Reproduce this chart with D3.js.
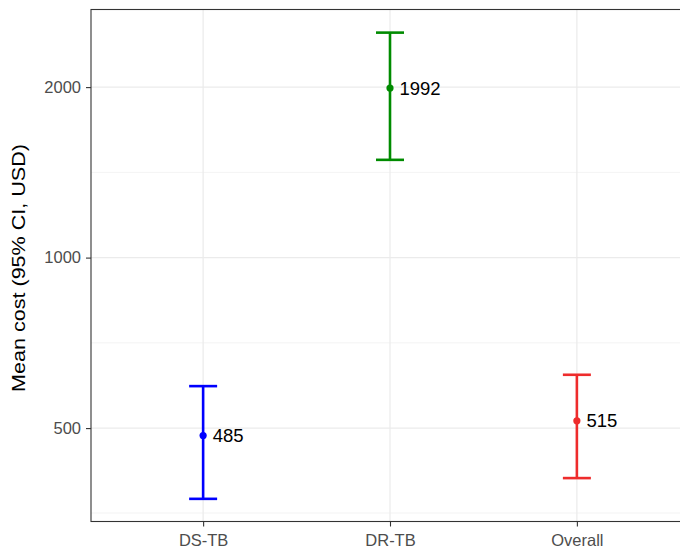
<!DOCTYPE html>
<html>
<head>
<meta charset="utf-8">
<script src="https://cdn.jsdelivr.net/npm/d3@7"></script>
<style>
  body { margin: 0; background: #fff; }
  svg { font-family: "Liberation Sans", Arial, sans-serif; display: block; }
</style>
</head>
<body>
<div id="chart"></div>
<script>
// Data
const groups = ['DS-TB', 'DR-TB', 'Overall'];
const means  = [485, 1992, 515];
const lower  = [375, 1488, 408];
const upper  = [593, 2496, 621];
const colors = ['#0000FF', '#008B00', '#EE2C2C'];
const yTicks = [500, 1000, 2000];
const yMinor = [354, 707, 1414];

const width = 680, height = 550;
const panel = { left: 91, top: 9.5, right: 689, bottom: 521.5 };

const svg = d3.select('#chart').append('svg')
  .attr('width', width).attr('height', height);

const x = d3.scalePoint().domain(groups)
  .range([panel.left, panel.right]).padding(0.6);
const y = d3.scaleLog().base(2).domain([342, 2742])
  .range([panel.bottom, panel.top]);

// Grid
const grid = svg.append('g');
grid.selectAll('.minor').data(yMinor).join('line')
  .attr('x1', panel.left).attr('x2', panel.right)
  .attr('y1', d => y(d)).attr('y2', d => y(d))
  .attr('stroke', '#EBEBEB').attr('stroke-width', 0.6);
grid.selectAll('.major').data(yTicks).join('line')
  .attr('x1', panel.left).attr('x2', panel.right)
  .attr('y1', d => y(d)).attr('y2', d => y(d))
  .attr('stroke', '#EBEBEB').attr('stroke-width', 1.2);
grid.selectAll('.vx').data(groups).join('line')
  .attr('x1', d => x(d)).attr('x2', d => x(d))
  .attr('y1', panel.top).attr('y2', panel.bottom)
  .attr('stroke', '#EBEBEB').attr('stroke-width', 1.2);

// Error bars
const capW = 14;
const bars = svg.append('g').selectAll('g').data(groups).join('g')
  .attr('stroke', (d, i) => colors[i]).attr('stroke-width', 2.6);
bars.append('line')
  .attr('x1', d => x(d)).attr('x2', d => x(d))
  .attr('y1', (d, i) => y(lower[i])).attr('y2', (d, i) => y(upper[i]));
bars.append('line')
  .attr('x1', d => x(d) - capW).attr('x2', d => x(d) + capW)
  .attr('y1', (d, i) => y(upper[i])).attr('y2', (d, i) => y(upper[i]));
bars.append('line')
  .attr('x1', d => x(d) - capW).attr('x2', d => x(d) + capW)
  .attr('y1', (d, i) => y(lower[i])).attr('y2', (d, i) => y(lower[i]));

// Points and labels
svg.append('g').selectAll('circle').data(groups).join('circle')
  .attr('cx', d => x(d)).attr('cy', (d, i) => y(means[i]))
  .attr('r', 3.6).attr('fill', (d, i) => colors[i]);
svg.append('g').selectAll('text').data(groups).join('text')
  .attr('x', d => x(d) + 9.5).attr('y', (d, i) => y(means[i]))
  .attr('dy', '0.36em').attr('font-size', 18.5).attr('fill', '#000')
  .text((d, i) => means[i]);

// Panel border
svg.append('rect')
  .attr('x', panel.left).attr('y', panel.top)
  .attr('width', panel.right - panel.left).attr('height', panel.bottom - panel.top)
  .attr('fill', 'none').attr('stroke', '#333').attr('stroke-width', 1.1);

// Axes
const yAxis = svg.append('g').attr('transform', `translate(${panel.left},0)`)
  .call(d3.axisLeft(y).tickValues(yTicks).tickFormat(d3.format('d')).tickSize(5).tickPadding(5));
const xAxis = svg.append('g').attr('transform', `translate(0,${panel.bottom})`)
  .call(d3.axisBottom(x).tickSize(5).tickPadding(7.5));
[yAxis, xAxis].forEach(a => {
  a.select('.domain').remove();
  a.selectAll('.tick line').attr('stroke', '#333').attr('stroke-width', 1.1);
  a.selectAll('.tick text').attr('fill', '#4D4D4D').attr('font-size', 16.5)
    .attr('font-family', '"Liberation Sans", Arial, sans-serif');
});

// Axis title
svg.append('text')
  .attr('transform', 'translate(25,268) rotate(-90)')
  .attr('text-anchor', 'middle').attr('font-size', 18).attr('fill', '#000')
  .attr('textLength', 248).attr('lengthAdjust', 'spacingAndGlyphs')
  .text('Mean cost (95% CI, USD)');
</script>
</body>
</html>
